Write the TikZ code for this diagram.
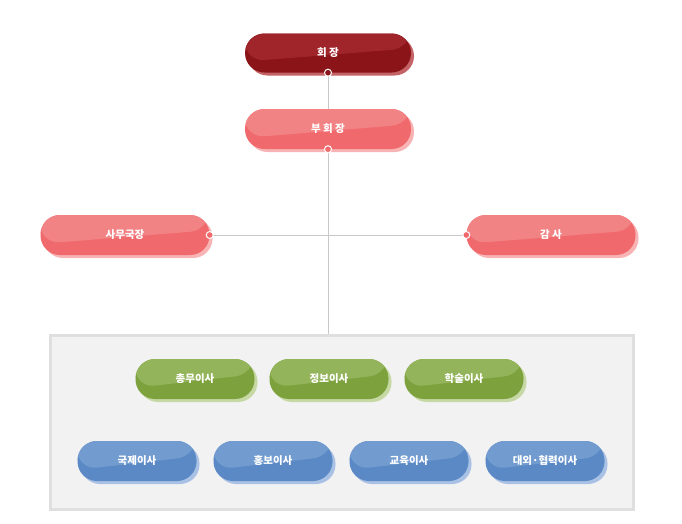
\documentclass[tikz,border=0pt]{standalone}
\usepackage{fontspec}
\setmainfont{Noto Sans CJK KR}
\usetikzlibrary{shadows}
\definecolor{rdD}{HTML}{8B1419}\definecolor{rdL}{HTML}{A0252A}\definecolor{rdS}{HTML}{C46266}
\definecolor{pkD}{HTML}{F06A6D}\definecolor{pkL}{HTML}{F28385}\definecolor{pkS}{HTML}{F8B3B4}
\definecolor{grD}{HTML}{7DA23D}\definecolor{grL}{HTML}{94B45B}\definecolor{grS}{HTML}{C6D9A4}
\definecolor{blD}{HTML}{5A89C5}\definecolor{blL}{HTML}{729BD0}\definecolor{blS}{HTML}{A9C1E4}
\definecolor{lineC}{HTML}{C8C8C8}
\tikzset{
 pill/.style n args={5}{draw=none, fill=#1, rounded corners=19.5pt, minimum width=#4pt, minimum height=#5pt,
   text=white, font=\bfseries\fontsize{10.5}{12}\selectfont, inner sep=0pt,
   general shadow={shadow xshift=3pt, shadow yshift=-3pt, fill=#3},
   path picture={\fill[#2] (path picture bounding box.north west) -- (path picture bounding box.north east)
     -- ([yshift=-0.38*#5pt]path picture bounding box.north east) -- ([yshift=-0.72*#5pt]path picture bounding box.north west) -- cycle;}},
 dot/.style={circle, fill=#1, draw=white, line width=1pt, minimum size=7pt, inner sep=0pt},
 conn/.style={draw=lineC, line width=0.8pt}
}
\begin{document}
\begin{tikzpicture}[x=1pt,y=-1pt]
\useasboundingbox[fill=white] (0,0) rectangle (682,523);
\node[draw=gray!25, line width=3pt, fill=gray!10, minimum width=583pt, minimum height=174pt, inner sep=0pt] (box) at (341.5,422) {};
\coordinate (boxtop) at (328,334);
\node[pill={rdD}{rdL}{rdS}{166}{39}] (ch) at (328,53) {회 장};
\node[pill={pkD}{pkL}{pkS}{166}{40}] (vc) at (328,129) {부 회 장};
\node[pill={pkD}{pkL}{pkS}{169}{40}] (sg) at (125,235) {사무국장};
\node[pill={pkD}{pkL}{pkS}{169}{40}] (au) at (551,235) {감 사};
\coordinate (mid) at (328,235);
\draw[conn] (ch.south) -- (vc.north);
\draw[conn] (vc.south) -- (boxtop);
\draw[conn] (sg.east) -- (au.west);
\node[dot=rdD] at (ch.south) {};
\node[dot=pkD] at (vc.south) {};
\node[dot=pkD] at (sg.east) {};
\node[dot=pkD] at (au.west) {};
\foreach \n/\x/\t in {g1/195/총무이사, g2/329/정보이사, g3/464/학술이사}
  \node[pill={grD}{grL}{grS}{119}{40}] (\n) at (\x,379) {\t};
\foreach \n/\x/\t in {b1/137/국제이사, b2/273/홍보이사, b3/409/교육이사, b4/545/대외·협력이사}
  \node[pill={blD}{blL}{blS}{119}{40}] (\n) at (\x,461) {\t};
\end{tikzpicture}
\end{document}
